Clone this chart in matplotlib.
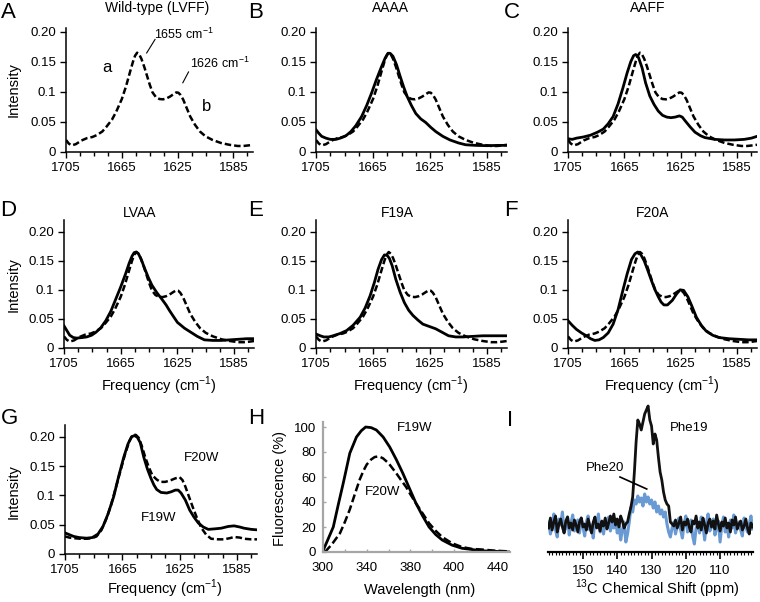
import matplotlib
matplotlib.use("Agg")
import matplotlib.pyplot as plt
import numpy as np
from matplotlib.ticker import FixedLocator

plt.rcParams['font.family'] = ['Liberation Sans', 'DejaVu Sans']
plt.rcParams['mathtext.fontset'] = 'custom'
plt.rcParams['mathtext.rm'] = 'Liberation Sans'

# --------------------------------------------------------------
# IR spectra: frequency (cm-1) / intensity
wt_freq = [1705, 1703, 1701, 1698, 1694, 1690, 1686, 1683, 1679, 1676,
           1672, 1669, 1665, 1662, 1659, 1657, 1655.5, 1654, 1652.5, 1651,
           1649, 1647, 1645, 1643, 1640.5, 1638, 1635.5, 1633, 1630.5, 1628,
           1626, 1624.5, 1623, 1621, 1618.5, 1616, 1612.5, 1609, 1605, 1600,
           1594, 1588, 1582, 1578, 1574, 1571]
wt_int = [0.020, 0.014, 0.011, 0.013, 0.019, 0.023, 0.025, 0.028, 0.034, 0.042,
          0.054, 0.067, 0.088, 0.109, 0.134, 0.150, 0.160, 0.165, 0.162, 0.155,
          0.142, 0.127, 0.112, 0.099, 0.091, 0.088, 0.0875, 0.089, 0.092, 0.096,
          0.099, 0.0985, 0.095, 0.087, 0.073, 0.059, 0.045, 0.034, 0.026, 0.020,
          0.015, 0.012, 0.010, 0.010, 0.011, 0.012]

aaaa_freq = [1705, 1703, 1701, 1698, 1695, 1691, 1688, 1684, 1680.5, 1677,
             1673, 1669.5, 1666, 1662.5, 1659, 1656.5, 1654.5, 1653, 1651, 1648.5,
             1646, 1643.5, 1641, 1638, 1635, 1631.5, 1628, 1624.5, 1621, 1616,
             1611, 1605, 1600, 1593, 1585, 1577, 1571]
aaaa_int = [0.037, 0.031, 0.026, 0.023, 0.021, 0.021, 0.023, 0.027, 0.034, 0.044,
            0.059, 0.077, 0.098, 0.121, 0.142, 0.156, 0.164, 0.164, 0.159, 0.145,
            0.126, 0.108, 0.092, 0.077, 0.064, 0.055, 0.049, 0.041, 0.034, 0.026,
            0.020, 0.015, 0.012, 0.011, 0.0105, 0.011, 0.011]

aaff_freq = [1705, 1702, 1699, 1694, 1689, 1684, 1680, 1676.5, 1673, 1669.5,
             1666, 1663, 1660.5, 1658.5, 1657, 1655, 1652.5, 1650, 1647, 1644,
             1641, 1638, 1635, 1632, 1629, 1626, 1624, 1622, 1618.5, 1615,
             1611, 1608, 1601, 1594, 1587, 1580, 1575, 1571]
aaff_int = [0.022, 0.021, 0.023, 0.025, 0.028, 0.033, 0.038, 0.047, 0.059, 0.080,
            0.107, 0.132, 0.150, 0.160, 0.162, 0.157, 0.140, 0.115, 0.093, 0.079,
            0.068, 0.061, 0.058, 0.057, 0.058, 0.060, 0.058, 0.052, 0.042, 0.033,
            0.027, 0.024, 0.021, 0.020, 0.020, 0.021, 0.023, 0.026]

lvaa_freq = [1705, 1703, 1701, 1698.5, 1696, 1692, 1689, 1685.5, 1682.5, 1679,
             1675.5, 1672, 1668.5, 1665, 1661.5, 1659, 1657, 1655.5, 1654, 1652.5,
             1650.5, 1648, 1645.5, 1643, 1639.5, 1636, 1633, 1630.5, 1627.5, 1625,
             1620, 1615.5, 1611, 1606, 1600, 1594, 1588, 1582, 1576, 1571]
lvaa_int = [0.038, 0.030, 0.022, 0.018, 0.017, 0.018, 0.019, 0.022, 0.027, 0.035,
            0.047, 0.063, 0.084, 0.105, 0.128, 0.146, 0.158, 0.164, 0.165, 0.162,
            0.152, 0.136, 0.121, 0.108, 0.095, 0.084, 0.074, 0.064, 0.053, 0.044,
            0.034, 0.027, 0.020, 0.014, 0.013, 0.013, 0.014, 0.015, 0.016, 0.016]

f19a_freq = [1705, 1702, 1699.5, 1696, 1693, 1688, 1683.5, 1679, 1674, 1670.5,
             1667, 1664, 1661.5, 1659, 1657, 1655, 1653.5, 1651.5, 1649, 1646,
             1643, 1640, 1637, 1633.5, 1630, 1625.5, 1621, 1616.5, 1612, 1607,
             1602, 1595, 1588, 1580, 1571]
f19a_int = [0.024, 0.021, 0.019, 0.019, 0.021, 0.025, 0.030, 0.039, 0.053, 0.069,
            0.090, 0.113, 0.135, 0.152, 0.160, 0.159, 0.154, 0.141, 0.118, 0.096,
            0.078, 0.065, 0.056, 0.048, 0.041, 0.037, 0.033, 0.027, 0.021, 0.019,
            0.019, 0.020, 0.021, 0.021, 0.021]

f20a_freq = [1705, 1702, 1699, 1695.5, 1692, 1689, 1686, 1683, 1680, 1676.5,
             1673, 1669.5, 1666, 1663, 1660, 1657.5, 1655.5, 1653.5, 1651, 1648.5,
             1646, 1643.5, 1641, 1639, 1637, 1634.5, 1631, 1628, 1625.5, 1623,
             1620, 1617, 1614, 1610.5, 1607, 1602.5, 1598, 1591, 1584, 1577, 1571]
f20a_int = [0.047, 0.039, 0.032, 0.026, 0.021, 0.016, 0.013, 0.014, 0.018, 0.026,
            0.041, 0.066, 0.100, 0.128, 0.152, 0.162, 0.165, 0.161, 0.150, 0.134,
            0.117, 0.101, 0.088, 0.079, 0.074, 0.074, 0.082, 0.093, 0.100, 0.099,
            0.088, 0.071, 0.053, 0.039, 0.029, 0.022, 0.018, 0.016, 0.015, 0.014, 0.014]

f19w_freq = [1705, 1702, 1699, 1695, 1690, 1686, 1682, 1678.5, 1675, 1671,
             1667.5, 1664, 1661, 1658.5, 1656.5, 1654.5, 1652.5, 1650, 1647.5, 1645,
             1643, 1641, 1638, 1634, 1631, 1628, 1626, 1624, 1621, 1618,
             1615, 1612, 1608.5, 1605, 1600, 1596, 1591, 1587, 1583, 1580, 1575, 1570]
f19w_int = [0.036, 0.033, 0.030, 0.028, 0.027, 0.028, 0.034, 0.047, 0.068, 0.098,
            0.133, 0.165, 0.188, 0.200, 0.202, 0.199, 0.190, 0.165, 0.145, 0.129,
            0.118, 0.110, 0.105, 0.104, 0.106, 0.109, 0.109, 0.104, 0.092, 0.075,
            0.063, 0.053, 0.046, 0.042, 0.043, 0.044, 0.047, 0.048, 0.046, 0.044,
            0.042, 0.041]

f20w_freq = [1705, 1702, 1699, 1694, 1690, 1686, 1683, 1679.5, 1676.5, 1673,
             1670, 1666.5, 1663, 1660, 1657.5, 1655.5, 1653.5, 1651.5, 1649, 1646.5,
             1644, 1641, 1638.5, 1635, 1631, 1628, 1625, 1623, 1621, 1618.5,
             1616, 1613, 1610, 1606.5, 1603, 1598, 1594, 1590, 1587, 1583,
             1580, 1575, 1570]
f20w_int = [0.030, 0.028, 0.027, 0.026, 0.026, 0.027, 0.030, 0.041, 0.058, 0.082,
            0.109, 0.140, 0.171, 0.193, 0.204, 0.203, 0.198, 0.185, 0.165, 0.148,
            0.134, 0.127, 0.123, 0.123, 0.126, 0.129, 0.131, 0.126, 0.115, 0.098,
            0.081, 0.062, 0.045, 0.033, 0.026, 0.025, 0.025, 0.027, 0.029, 0.028,
            0.026, 0.025, 0.025]

freq_ticks = [1705, 1665, 1625, 1585]
freq_minor = [1705, 1695, 1685, 1675, 1665, 1655, 1645, 1635, 1625, 1615,
              1605, 1595, 1585, 1575]
int_ticks = [0, 0.05, 0.1, 0.15, 0.20]
int_labels = ['0', '0.05', '0.1', '0.15', '0.20']

# --------------------------------------------------------------
# Fluorescence (H)
fl19_wl = [300, 304, 309.4, 314, 318.5, 324.5, 330.6, 335, 339, 344,
           348.8, 355, 361, 367, 373, 379, 385, 391, 397, 403,
           409, 418, 427, 436, 445, 458, 470]
fl19 = [1, 9, 20, 38, 55, 79, 92, 97, 100, 99.5,
        97.6, 92, 84, 74, 63, 51, 39, 29, 20, 14,
        9.6, 5.5, 3, 2, 1, 0.5, 0]
fl20_wl = [301.8, 308, 315.5, 320, 324.5, 329, 333.6, 337, 340, 344,
           347.3, 351, 354.8, 360, 367, 371, 376, 380, 385, 391,
           397, 403, 409, 418, 427, 436, 445, 458, 470]
fl20 = [0, 6, 15, 24, 34, 46, 58, 65, 70, 74,
        76, 76.5, 75, 71, 63, 58, 52, 46, 39, 31,
        23, 17, 12, 7, 4, 2.5, 2, 1, 0.5]
wl_ticks = [300, 340, 380, 420, 460]
wl_labels = ['300', '340', '380', '400', '440']
fl_ticks = [0, 20, 40, 60, 80, 100]

# --------------------------------------------------------------
# 13C NMR (I), 0.5 ppm steps from 160 ppm
phe19 = [24, 34, 22, 30, 36, 20, 28, 33, 25, 19, 31, 35, 24, 29, 22, 32, 27, 20, 30, 34, 25,
         28, 22, 33, 26, 19, 30, 35, 24, 28, 21, 31, 26, 34, 23, 29, 36, 30, 38, 27, 33, 25,
         36, 31, 24, 28,
         30, 38, 45, 55, 80, 110, 132, 128, 122, 130, 138, 142, 146, 132, 126, 108, 118,
         112, 95, 80, 72, 60, 52, 48, 46, 30, 28,
         26, 32, 24, 29, 35, 22, 30, 27, 33, 25, 20, 31, 28, 36, 24, 30, 22, 34, 27, 19,
         29, 33, 25, 31, 23, 37, 28, 21, 30, 26, 34, 24, 29, 20, 32, 27, 35, 23, 28, 31,
         22, 26, 33, 24, 18, 29, 25]
phe20 = [30, 18, 26, 38, 22, 15, 33, 27, 40, 20, 24, 35, 17, 29, 37, 21, 26, 32, 19, 34, 25,
         16, 30, 36, 22, 27, 14, 33, 25, 38, 20, 28, 18, 31, 26, 35, 21, 29, 24, 33, 19,
         27, 12, 22, 30, 10,
         18, 30, 45, 40, 52, 48, 56, 50, 54, 46, 58, 50, 55, 48, 52, 44, 50, 40, 46, 38,
         42, 35, 40, 28, 20, 15, 24,
         30, 18, 26, 34, 22, 14, 28, 36, 20, 25, 32, 16, 8, 24, 30, 19, 35, 27, 12, 29,
         38, 21, 26, 33, 17, 24, 31, 10, 27, 35, 20, 28, 15, 32, 24, 37, 19, 26, 30, 22,
         16, 34, 25, 20, 28, 36, 23]
ppm = 160 - 0.5 * np.arange(len(phe19))
ppm_ticks = [150, 140, 130, 120, 110]

# --------------------------------------------------------------
W, H = 760, 602
fig = plt.figure(figsize=(W / 100, H / 100), dpi=100)


def px_axes(x0, x1, y0, y1):
    return fig.add_axes([x0 / W, 1 - y1 / H, (x1 - x0) / W, (y1 - y0) / H])


def ftext(px, py, s, **kw):
    fig.text(px / W, 1 - py / H, s, ha='center', va='center', **kw)


DASH = (0, (2.6, 1.2))


def ir_axes(x0, x1, y0, y1, ytop):
    ax = px_axes(x0, x1, y0, y1)
    ax.set_xlim(1705, 1571)
    ax.set_ylim(0, ytop)
    ax.set_xticks(freq_ticks)
    ax.set_xticklabels([str(t) for t in freq_ticks])
    ax.xaxis.set_minor_locator(FixedLocator(freq_minor))
    ax.set_yticks(int_ticks)
    ax.set_yticklabels(int_labels)
    for s in ['top', 'right']:
        ax.spines[s].set_visible(False)
    for s in ['left', 'bottom']:
        ax.spines[s].set_linewidth(1.1)
    ax.tick_params(which='both', direction='out', width=1, labelsize=9.5, pad=3)
    ax.tick_params(which='major', length=4)
    ax.tick_params(which='minor', length=3)
    return ax


def wt(ax):
    ax.plot(wt_freq, wt_int, color='black', lw=1.8, ls=DASH)


# row 1
axA = ir_axes(66, 253, 28, 152, 0.206)
wt(axA)
axA.plot([1647.2, 1641.2], [0.1645, 0.187], color='black', lw=0.8)
axA.plot([1621.3, 1617.2], [0.115, 0.133], color='black', lw=0.8)
axA.text(1642, 0.195, '1655 cm$^{\\mathregular{-1}}$', fontsize=9, va='center')
axA.text(1616, 0.148, '1626 cm$^{\\mathregular{-1}}$', fontsize=9, va='center')
axA.text(1675.6, 0.140, 'a', fontsize=12, ha='center', va='center')
axA.text(1604, 0.075, 'b', fontsize=12, ha='center', va='center')

axB = ir_axes(316, 507, 28, 152, 0.206)
wt(axB)
axB.plot(aaaa_freq, aaaa_int, color='black', lw=2)

axC = ir_axes(568, 757, 28, 152, 0.206)
wt(axC)
axC.plot(aaff_freq, aaff_int, color='black', lw=2)

# row 2
axD = ir_axes(64, 254, 220, 348, 0.22)
wt(axD)
axD.plot(lvaa_freq, lvaa_int, color='black', lw=2)

axE = ir_axes(316, 507, 220, 348, 0.22)
wt(axE)
axE.plot(f19a_freq, f19a_int, color='black', lw=2)

axF = ir_axes(568, 757, 220, 348, 0.22)
wt(axF)
axF.plot(f20a_freq, f20a_int, color='black', lw=2)

# row 3 - G
axG = ir_axes(65, 257, 425, 554, 0.22)
axG.plot(f20w_freq, f20w_int, color='black', lw=1.8, ls=DASH)
axG.plot(f19w_freq, f19w_int, color='black', lw=2)
axG.text(1610, 0.164, 'F20W', fontsize=9.5, ha='center', va='center')
axG.text(1639.5, 0.061, 'F19W', fontsize=9.5, ha='center', va='center')

# H - fluorescence
axH = px_axes(323, 510, 422, 552)
axH.plot(fl20_wl, fl20, color='black', lw=1.8, ls=(0, (3.2, 1.4)))
axH.plot(fl19_wl, fl19, color='black', lw=2)
axH.set_xlim(300, 471)
axH.set_ylim(0, 104)
axH.set_xticks(wl_ticks)
axH.set_xticklabels(wl_labels)
axH.xaxis.set_minor_locator(FixedLocator([320, 360, 400, 440]))
axH.set_yticks(fl_ticks)
for s in ['top', 'right']:
    axH.spines[s].set_visible(False)
for s in ['left', 'bottom']:
    axH.spines[s].set_linewidth(1.6)
    axH.spines[s].set_color('#a6a6a6')
axH.tick_params(which='both', direction='in', length=2.5, color='#a6a6a6',
                width=1, labelsize=9.5)
axH.tick_params(axis='x', pad=7)
axH.tick_params(axis='y', pad=5)
axH.text(383.6, 99, 'F19W', fontsize=9.5, ha='center', va='center')
axH.text(354.5, 48, 'F20W', fontsize=9.5, ha='center', va='center')

# I - NMR
axI = px_axes(548, 753, 402, 552)
axI.plot(ppm, phe20, color='#6a9ad4', lw=2.2)
axI.plot(ppm, phe19, color='#111111', lw=2)
axI.set_xlim(160.2, 100.4)
axI.set_ylim(0, 150)
axI.set_xticks(ppm_ticks)
axI.xaxis.set_minor_locator(FixedLocator(np.arange(160, 100, -1)))
axI.set_yticks([])
for s in ['top', 'right', 'left']:
    axI.spines[s].set_visible(False)
axI.spines['bottom'].set_linewidth(1.6)
axI.tick_params(which='major', direction='out', length=5, width=1.2,
                labelsize=9.5, pad=4)
axI.tick_params(which='minor', direction='out', length=2.5, width=0.8)
axI.text(118.9, 124, 'Phe19', fontsize=9.5, ha='center', va='center')
axI.text(143.6, 84, 'Phe20', fontsize=9.5, ha='center', va='center')
axI.plot([139.2, 131.4], [75, 63], color='black', lw=1.2)

# titles
ftext(157, 8, 'Wild-type (LVFF)', fontsize=10)
ftext(390, 8, 'AAAA', fontsize=10)
ftext(648, 8, 'AAFF', fontsize=10)
ftext(140, 213, 'LVAA', fontsize=10)
ftext(397, 213, 'F19A', fontsize=10)
ftext(653, 213, 'F20A', fontsize=10)

# panel letters
for letter, px, py in [('A', 8, 13), ('B', 256, 13), ('C', 512, 13),
                       ('D', 8, 211), ('E', 256, 211), ('F', 511, 210),
                       ('G', 9, 418), ('H', 256, 418), ('I', 510, 420)]:
    ftext(px, py, letter, fontsize=16)

# axis labels
for py in [90, 285, 492]:
    ftext(14, py, 'Intensity', fontsize=10.5, rotation=90)
ftext(280, 488, 'Fluorescence (%)', fontsize=10.5, rotation=90)
for px in [159, 411, 662]:
    ftext(px, 386, 'Frequency (cm$^{\\mathregular{-1}}$)', fontsize=10.5)
ftext(165, 589, 'Frequency (cm$^{\\mathregular{-1}}$)', fontsize=10.5)
ftext(420, 590, 'Wavelength (nm)', fontsize=10.5)
ftext(657, 589, '$^{\\mathregular{13}}$C Chemical Shift (ppm)', fontsize=10.5)

fig.savefig('out.png', dpi=100)
